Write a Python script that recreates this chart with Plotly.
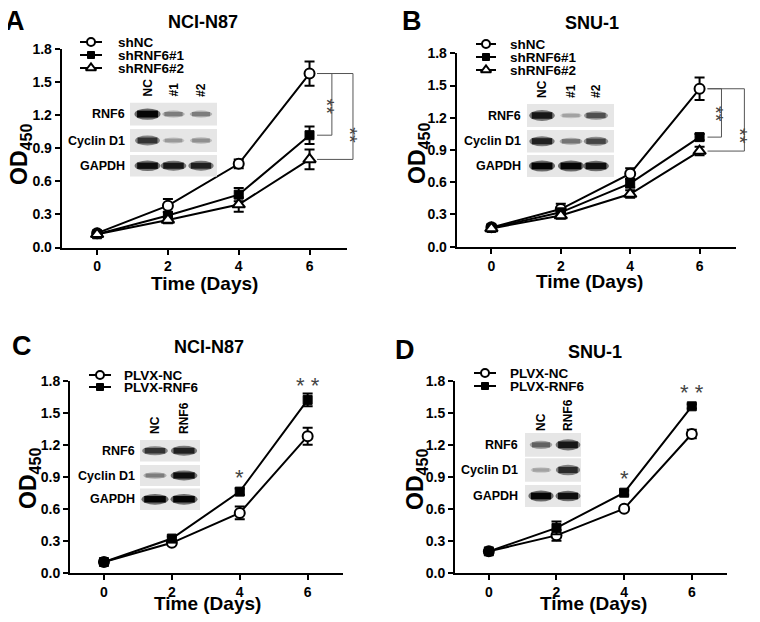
import plotly.graph_objects as go

W, H = 760, 622
OFF = 8  # the page body margin shifts the figure by 8px; layout below is given in window pixels
FONT = "Liberation Sans, Arial, sans-serif"

days = [0, 2, 4, 6]

# A: NCI-N87 knock-down
a_shnc = [0.13, 0.38, 0.76, 1.58]
a_shnc_err = [0.02, 0.06, 0.04, 0.11]
a_sh1 = [0.12, 0.29, 0.48, 1.02]
a_sh1_err = [0.02, 0.03, 0.06, 0.08]
a_sh2 = [0.12, 0.25, 0.39, 0.80]
a_sh2_err = [0.02, 0.03, 0.065, 0.09]

# B: SNU-1 knock-down
b_shnc = [0.18, 0.35, 0.68, 1.47]
b_shnc_err = [0.02, 0.05, 0.05, 0.105]
b_sh1 = [0.175, 0.32, 0.59, 1.02]
b_sh1_err = [0.02, 0.03, 0.04, 0.03]
b_sh2 = [0.17, 0.29, 0.49, 0.89]
b_sh2_err = [0.02, 0.03, 0.035, 0.04]

# C: NCI-N87 over-expression
c_nc = [0.10, 0.28, 0.56, 1.28]
c_nc_err = [0.01, 0.02, 0.06, 0.08]
c_rnf6 = [0.10, 0.32, 0.76, 1.62]
c_rnf6_err = [0.01, 0.02, 0.03, 0.06]

# D: SNU-1 over-expression
d_nc = [0.20, 0.35, 0.60, 1.30]
d_nc_err = [0.01, 0.05, 0.02, 0.04]
d_rnf6 = [0.20, 0.42, 0.75, 1.56]
d_rnf6_err = [0.01, 0.06, 0.02, 0.02]

# western blot insets (relative band intensity, rows x lanes)
blot_rows = ["RNF6", "Cyclin D1", "GAPDH"]
kd_lanes = ["NC", "#1", "#2"]
oe_lanes = ["NC", "RNF6"]
a_blot = [[1.0, 0.35, 0.35], [0.75, 0.2, 0.25], [0.95, 0.9, 0.85]]
b_blot = [[0.9, 0.15, 0.6], [0.85, 0.4, 0.65], [1.0, 1.0, 0.95]]
c_blot = [[0.75, 0.85], [0.35, 0.95], [1.0, 1.0]]
d_blot = [[0.5, 0.9], [0.15, 0.8], [1.0, 0.95]]

STY = {
    "circle": dict(symbol="circle", color="white", line=dict(color="black", width=2), size=10),
    "square": dict(symbol="square", color="black", line=dict(color="black", width=1), size=9),
    "tri": dict(symbol="triangle-up", color="white", line=dict(color="black", width=2), size=11),
}

panels = [
    dict(letter="A", title="NCI-N87", xd=(61.7, 346.7), yd=(49.3, 247.5),
         series=[("shNC", a_shnc, a_shnc_err, "circle"),
                 ("shRNF6#1", a_sh1, a_sh1_err, "square"),
                 ("shRNF6#2", a_sh2, a_sh2_err, "tri")],
         letter_pos=(15, 21), title_pos=(203, 22), od_pos=(20, 155), time_pos=(204, 283),
         leg=dict(x0=80, x1=102, tx=116, ys=[42, 55, 68]),
         blot=dict(data=a_blot, lanes=kd_lanes, x=(130, 217),
                   strips=[(102.7, 125.5), (129, 152), (155, 176.5)],
                   lx=[147.5, 173.5, 201], lab_r=127, col_b=99),
         brackets=dict(xs=0.896, inner=0.948, outer=1.022, star_in=(0.977, 1.28), star_out=(1.057, 1.02))),
    dict(letter="B", title="SNU-1", xd=(456.7, 736), yd=(53.3, 246.7),
         series=[("shNC", b_shnc, b_shnc_err, "circle"),
                 ("shRNF6#1", b_sh1, b_sh1_err, "square"),
                 ("shRNF6#2", b_sh2, b_sh2_err, "tri")],
         letter_pos=(412, 21), title_pos=(592, 23), od_pos=(418, 154), time_pos=(589, 281),
         leg=dict(x0=476, x1=496, tx=508, ys=[44, 57, 70]),
         blot=dict(data=b_blot, lanes=kd_lanes, x=(527, 614),
                   strips=[(104, 127), (130, 152.5), (155, 177)],
                   lx=[542, 571, 596], lab_r=523, col_b=100),
         brackets=dict(xs=0.898, inner=0.948, outer=1.03, star_in=(0.975, 1.235), star_out=(1.061, 1.03))),
    dict(letter="C", title="NCI-N87", xd=(70, 343.3), yd=(380.7, 572.7),
         series=[("PLVX-NC", c_nc, c_nc_err, "circle"),
                 ("PLVX-RNF6", c_rnf6, c_rnf6_err, "square")],
         letter_pos=(22, 346), title_pos=(209, 347), od_pos=(29, 479), time_pos=(207, 603),
         leg=dict(x0=89, x1=111, tx=122, ys=[375, 387]),
         blot=dict(data=c_blot, lanes=oe_lanes, x=(140, 200),
                   strips=[(440, 461.5), (465, 486), (488.5, 510)],
                   lx=[155, 184], lab_r=137, col_b=436),
         stars=True),
    dict(letter="D", title="SNU-1", xd=(455, 727.3), yd=(380.7, 572.7),
         series=[("PLVX-NC", d_nc, d_nc_err, "circle"),
                 ("PLVX-RNF6", d_rnf6, d_rnf6_err, "square")],
         letter_pos=(405, 350), title_pos=(595, 352), od_pos=(416, 480), time_pos=(593, 603),
         leg=dict(x0=474, x1=496, tx=508, ys=[373, 386]),
         blot=dict(data=d_blot, lanes=oe_lanes, x=(525, 581),
                   strips=[(433, 456.7), (458.3, 481.7), (485, 507)],
                   lx=[541, 568], lab_r=520, col_b=433),
         stars=True),
]

fig = go.Figure()
shapes = []
annos = []


def txt(x, y, text, size, bold=True, **kw):
    d = dict(x=x, y=y, xref="x5", yref="y5", text=text, showarrow=False,
             font=dict(family=FONT, size=size, color=kw.pop("color", "black"),
                       weight="bold" if bold else "normal"))
    d.update(kw)
    annos.append(d)


for i, p in enumerate(panels, start=1):
    sfx = "" if i == 1 else str(i)
    xa, ya = "x" + sfx, "y" + sfx
    for name, vals, errs, sty in p["series"]:
        fig.add_trace(go.Scatter(
            x=days, y=vals, mode="lines+markers", name=name, showlegend=False,
            xaxis=xa, yaxis=ya, cliponaxis=False,
            line=dict(color="black", width=2), marker=STY[sty],
            error_y=dict(type="data", array=errs, color="black", thickness=2, width=5)))

    tick = dict(ticks="outside", ticklen=5, tickwidth=2, tickcolor="black", automargin=False,
                showline=True, linewidth=2, linecolor="black", showgrid=False,
                zeroline=False, tickfont=dict(family=FONT, size=14, color="black", weight="bold"))
    xdom = [(p["xd"][0] - OFF) / W, (p["xd"][1] - OFF) / W]
    ydom = [1 - (p["yd"][1] - OFF) / H, 1 - (p["yd"][0] - OFF) / H]
    fig.layout["xaxis" + sfx] = dict(domain=xdom, anchor=ya, range=[-1, 7.05],
                                     tickvals=days, **tick)
    yt = [0, 0.3, 0.6, 0.9, 1.2, 1.5, 1.8]
    fig.layout["yaxis" + sfx] = dict(domain=ydom, anchor=xa, range=[0, 1.8], tickvals=yt,
                                     ticktext=[f"{v:.1f}" for v in yt], **tick)

    txt(*p["letter_pos"], p["letter"], 27)
    txt(*p["title_pos"], p["title"], 18)
    txt(*p["od_pos"], "OD<sub>450</sub>", 23, textangle=-90)
    txt(*p["time_pos"], "Time (Days)", 19)

    # legend drawn by hand (tight row spacing)
    lg = p["leg"]
    for (name, vals, errs, sty), ry in zip(p["series"], lg["ys"]):
        fig.add_trace(go.Scatter(x=[lg["x0"], lg["x1"]], y=[ry, ry], mode="lines",
                                 line=dict(color="black", width=2), showlegend=False,
                                 xaxis="x5", yaxis="y5", hoverinfo="skip"))
        m = dict(STY[sty])
        m["size"] = m["size"] - 2
        fig.add_trace(go.Scatter(x=[(lg["x0"] + lg["x1"]) / 2], y=[ry], mode="markers",
                                 marker=m, showlegend=False, xaxis="x5", yaxis="y5",
                                 hoverinfo="skip"))
        txt(lg["tx"], ry, name, 13.5, xanchor="left")

    # blot inset
    b = p["blot"]
    lane_w = (b["x"][1] - b["x"][0]) / len(b["lanes"])
    for (y0, y1), row, lab in zip(b["strips"], b["data"], blot_rows):
        shapes.append(dict(type="rect", xref="x5", yref="y5", x0=b["x"][0], x1=b["x"][1],
                           y0=y0, y1=y1, fillcolor="#e6e6e6", line=dict(width=0), layer="above"))
        sh = y1 - y0
        ym = (y0 + y1) / 2
        for cx, I in zip(b["lx"], row):
            hw = lane_w * (0.72 + 0.18 * I) / 2
            hh = sh * (0.2 + 0.3 * I) / 2
            g1 = int(215 - 110 * I)
            g2 = int(190 - 185 * I)
            shapes.append(dict(type="circle", xref="x5", yref="y5", x0=cx - hw, x1=cx + hw,
                               y0=ym - hh, y1=ym + hh, fillcolor=f"rgb({g1},{g1},{g1})",
                               line=dict(width=0), layer="above"))
            shapes.append(dict(type="rect", xref="x5", yref="y5", x0=cx - hw * 0.8,
                               x1=cx + hw * 0.8, y0=ym - hh * 0.6, y1=ym + hh * 0.6,
                               fillcolor=f"rgb({g2},{g2},{g2})", line=dict(width=0), layer="above"))
        txt(b["lab_r"], ym, lab, 12.5, xanchor="right")
    for cx, lab in zip(b["lx"], b["lanes"]):
        txt(cx, b["col_b"], lab, 12, textangle=-90, yanchor="bottom")

    # significance marks
    if "brackets" in p:
        br = p["brackets"]
        top = p["series"][0][1][-1]
        xd = "x domain" if i == 1 else f"x{i} domain"
        for (nm, vals, e, s), xv in zip(p["series"][1:], [br["inner"], br["outer"]]):
            bot = vals[-1]
            for seg in [(br["xs"], top, xv, top), (xv, top, xv, bot), (br["xs"], bot, xv, bot)]:
                shapes.append(dict(type="line", xref=xd, yref=ya, x0=seg[0], y0=seg[1],
                                   x1=seg[2], y1=seg[3], line=dict(color="#555", width=1)))
        for sx, sy in [br["star_in"], br["star_out"]]:
            annos.append(dict(x=sx, y=sy, xref=xd, yref=ya, text="**", textangle=90,
                              showarrow=False, font=dict(family=FONT, size=20, color="#444")))
    if p.get("stars"):
        oe = p["series"][1][1]
        annos.append(dict(x=days[2], y=oe[2], xref=xa, yref=ya, text="*", showarrow=False,
                          yshift=14, font=dict(family=FONT, size=22, color="#444")))
        annos.append(dict(x=days[3], y=oe[3], xref=xa, yref=ya, text="* *", showarrow=False,
                          yshift=14, font=dict(family=FONT, size=22, color="#444")))

fig.update_layout(
    xaxis5=dict(domain=[0, 1], range=[OFF, W + OFF], visible=False, fixedrange=True, anchor="y5"),
    yaxis5=dict(domain=[0, 1], range=[H + OFF, OFF], visible=False, fixedrange=True, anchor="x5"),
    shapes=shapes, annotations=annos,
    width=W, height=H, margin=dict(l=0, r=0, t=0, b=0, autoexpand=False),
    paper_bgcolor="white", plot_bgcolor="rgba(0,0,0,0)",
    font=dict(family=FONT), showlegend=False,
)

fig.write_html("out.html")
